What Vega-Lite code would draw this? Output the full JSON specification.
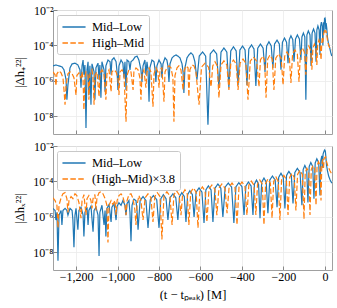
{
"$schema": "https://vega.github.io/schema/vega-lite/v6.json",
"padding": {"left": 13, "top": 3, "right": 1, "bottom": 0},
"config": {
  "font": "Liberation Serif",
  "view": {"stroke": "#a0a0a0", "strokeWidth": 1},
  "axis": {"domain": false, "grid": true, "gridColor": "#ebebeb", "gridWidth": 0.8, "tickColor": "#888", "tickSize": -4, "labelFont": "Liberation Serif", "labelFontSize": 12, "labelColor": "#000", "titleFont": "Liberation Serif", "titleFontSize": 12.5, "titleFontWeight": "normal", "titleColor": "#000"},
  "legend": {"fillColor": "white", "strokeColor": "#c8c8c8", "cornerRadius": 2, "padding": 4, "labelFontSize": 12.5, "labelFont": "Liberation Serif", "labelColor": "#000", "symbolType": "M-1.65,0H1.65", "symbolSize": 196, "symbolOffset": 5, "symbolStrokeWidth": 1.3, "rowPadding": 1, "labelOffset": 10, "labelLimit": 200}
},
"datasets": {
"pML": [{"t":-1311,"v":7e-6},{"t":-1297,"v":7.9e-6},{"t":-1282,"v":7e-6},{"t":-1268,"v":6.2e-6},{"t":-1258,"v":4.2e-6},{"t":-1248,"v":1.15e-6},{"t":-1244,"v":8.5e-8},{"t":-1239,"v":5.9e-7},{"t":-1229,"v":5.4e-6},{"t":-1219,"v":9.1e-6},{"t":-1205,"v":1e-5},{"t":-1191,"v":7.9e-6},{"t":-1181,"v":4.2e-6},{"t":-1176,"v":4.1e-7},{"t":-1171,"v":7e-6},{"t":-1166,"v":1.5e-5},{"t":-1162,"v":2.2e-6},{"t":-1157,"v":7.9e-6},{"t":-1152,"v":2.2e-9},{"t":-1147,"v":4.2e-6},{"t":-1142,"v":1.2e-5},{"t":-1138,"v":1.6e-7},{"t":-1133,"v":7e-6},{"t":-1128,"v":4.5e-8},{"t":-1123,"v":9.1e-6},{"t":-1113,"v":3.2e-6},{"t":-1109,"v":8.5e-8},{"t":-1104,"v":5.4e-6},{"t":-1094,"v":1e-5},{"t":-1089,"v":1.15e-6},{"t":-1085,"v":7.9e-6},{"t":-1080,"v":1.1e-7},{"t":-1075,"v":1.2e-5},{"t":-1065,"v":4.2e-6},{"t":-1060,"v":2.4e-7},{"t":-1056,"v":7e-6},{"t":-1046,"v":1.5e-5},{"t":-1036,"v":1.2e-5},{"t":-1031,"v":2.2e-6},{"t":-1027,"v":1.5e-5},{"t":-1017,"v":2e-5},{"t":-1007,"v":1.2e-5},{"t":-1002,"v":3.2e-6},{"t":-998,"v":3.1e-7},{"t":-993,"v":7e-6},{"t":-983,"v":1.5e-5},{"t":-974,"v":1e-5},{"t":-969,"v":1.5e-6},{"t":-964,"v":1.2e-5},{"t":-959,"v":3.1e-7},{"t":-954,"v":1.5e-5},{"t":-945,"v":1.2e-5},{"t":-940,"v":4.2e-6},{"t":-935,"v":1.2e-5},{"t":-925,"v":1.5e-5},{"t":-916,"v":2.2e-5},{"t":-906,"v":2.5e-5},{"t":-897,"v":1.5e-5},{"t":-887,"v":4.2e-6},{"t":-882,"v":8.8e-7},{"t":-877,"v":7e-6},{"t":-868,"v":1.5e-5},{"t":-863,"v":2.2e-6},{"t":-858,"v":1.2e-5},{"t":-853,"v":4.2e-6},{"t":-848,"v":6.6e-8},{"t":-844,"v":5.4e-6},{"t":-834,"v":1.5e-5},{"t":-824,"v":1.2e-5},{"t":-819,"v":4.2e-6},{"t":-815,"v":8.8e-7},{"t":-810,"v":7e-6},{"t":-800,"v":1.5e-5},{"t":-790,"v":9.1e-6},{"t":-786,"v":1.5e-6},{"t":-781,"v":9.1e-6},{"t":-771,"v":2e-5},{"t":-762,"v":1.5e-5},{"t":-757,"v":7e-6},{"t":-752,"v":8.8e-7},{"t":-747,"v":9.1e-6},{"t":-737,"v":2e-5},{"t":-728,"v":2.5e-5},{"t":-718,"v":2.9e-5},{"t":-709,"v":2.5e-5},{"t":-699,"v":2e-5},{"t":-689,"v":9.1e-6},{"t":-684,"v":3.2e-6},{"t":-680,"v":2.1e-7},{"t":-675,"v":5.4e-6},{"t":-665,"v":2e-5},{"t":-656,"v":2.9e-5},{"t":-646,"v":3.8e-5},{"t":-636,"v":2.9e-5},{"t":-627,"v":1.2e-5},{"t":-617,"v":1.15e-6},{"t":-606,"v":2.5e-5},{"t":-590,"v":4.3e-5},{"t":-575,"v":2.5e-5},{"t":-564,"v":3.3e-9},{"t":-553,"v":3.3e-5},{"t":-537,"v":5.6e-5},{"t":-522,"v":3.3e-5},{"t":-511,"v":4.1e-7},{"t":-501,"v":4.2e-5},{"t":-487,"v":7.2e-5},{"t":-473,"v":4.2e-5},{"t":-463,"v":4.1e-7},{"t":-454,"v":4.9e-5},{"t":-441,"v":8.3e-5},{"t":-428,"v":4.9e-5},{"t":-419,"v":5.9e-7},{"t":-410,"v":5.5e-5},{"t":-397,"v":9.3e-5},{"t":-385,"v":5.5e-5},{"t":-376,"v":5.9e-7},{"t":-367,"v":6.3e-5},{"t":-354,"v":1.07e-4},{"t":-342,"v":6.3e-5},{"t":-333,"v":5.2e-7},{"t":-324,"v":7e-5},{"t":-311,"v":1.2e-4},{"t":-298,"v":7e-5},{"t":-289,"v":3.2e-6},{"t":-281,"v":9.4e-5},{"t":-270,"v":1.6e-4},{"t":-259,"v":9.4e-5},{"t":-251,"v":5.4e-6},{"t":-243,"v":1.2e-4},{"t":-231,"v":2e-4},{"t":-220,"v":1.2e-4},{"t":-212,"v":4.2e-6},{"t":-205,"v":1.5e-4},{"t":-195,"v":2.6e-4},{"t":-185,"v":1.5e-4},{"t":-178,"v":1e-5},{"t":-172,"v":2.1e-4},{"t":-164,"v":3.5e-4},{"t":-155,"v":2.1e-4},{"t":-149,"v":1.2e-5},{"t":-142,"v":2.3e-4},{"t":-133,"v":3.9e-4},{"t":-123,"v":2.3e-4},{"t":-116,"v":1.5e-5},{"t":-111,"v":3e-4},{"t":-104,"v":5e-4},{"t":-97,"v":3e-4},{"t":-92,"v":8.5e-8},{"t":-87,"v":3.9e-4},{"t":-80,"v":6.6e-4},{"t":-72,"v":3.9e-4},{"t":-67,"v":7e-6},{"t":-62,"v":5e-4},{"t":-55,"v":8.5e-4},{"t":-48,"v":5e-4},{"t":-43,"v":1.2e-5},{"t":-39,"v":7.4e-4},{"t":-34,"v":1.26e-3},{"t":-28,"v":7.4e-4},{"t":-24,"v":2.9e-5},{"t":-21,"v":1.2e-3},{"t":-17,"v":2.1e-3},{"t":-13,"v":1.2e-3},{"t":-10,"v":1e-4},{"t":-7,"v":2e-3},{"t":-5,"v":5e-4},{"t":-2,"v":3.3e-3},{"t":0,"v":3.5e-3},{"t":2,"v":2.8e-3},{"t":4,"v":8e-4},{"t":6,"v":1.8e-3},{"t":9,"v":9e-4},{"t":12,"v":3e-4},{"t":16,"v":1.5e-4},{"t":22,"v":8e-5},{"t":28,"v":4e-5},{"t":33,"v":2.5e-5}],
"pHM": [{"t":-1311,"v":3.2e-6},{"t":-1301,"v":2.2e-6},{"t":-1297,"v":5.2e-7},{"t":-1292,"v":2.5e-6},{"t":-1282,"v":3.7e-6},{"t":-1272,"v":2.8e-6},{"t":-1263,"v":1.5e-6},{"t":-1258,"v":3.1e-7},{"t":-1253,"v":4.5e-8},{"t":-1248,"v":5.9e-7},{"t":-1239,"v":2.5e-6},{"t":-1229,"v":3.2e-6},{"t":-1219,"v":2.5e-6},{"t":-1210,"v":1.5e-6},{"t":-1200,"v":1.6e-7},{"t":-1196,"v":2e-6},{"t":-1186,"v":2.8e-6},{"t":-1176,"v":1.5e-6},{"t":-1171,"v":3.2e-6},{"t":-1166,"v":1.15e-6},{"t":-1162,"v":2.3e-8},{"t":-1157,"v":1.5e-6},{"t":-1152,"v":3.2e-6},{"t":-1142,"v":2e-6},{"t":-1138,"v":8.5e-8},{"t":-1133,"v":2.5e-6},{"t":-1123,"v":4.2e-6},{"t":-1118,"v":1.5e-6},{"t":-1113,"v":4.5e-8},{"t":-1109,"v":2e-6},{"t":-1099,"v":3.2e-6},{"t":-1089,"v":1.26e-7},{"t":-1085,"v":2.5e-6},{"t":-1075,"v":4.2e-6},{"t":-1065,"v":2.5e-6},{"t":-1056,"v":8.5e-8},{"t":-1051,"v":2.5e-6},{"t":-1041,"v":4.2e-6},{"t":-1031,"v":2.4e-7},{"t":-1027,"v":3.2e-6},{"t":-1017,"v":4.2e-6},{"t":-1007,"v":3.2e-6},{"t":-998,"v":1.5e-6},{"t":-993,"v":1.6e-7},{"t":-988,"v":3.2e-6},{"t":-978,"v":4.2e-6},{"t":-969,"v":2.5e-6},{"t":-959,"v":4.9e-9},{"t":-954,"v":2e-6},{"t":-945,"v":4.2e-6},{"t":-935,"v":3.2e-6},{"t":-925,"v":3.1e-7},{"t":-921,"v":3.2e-6},{"t":-911,"v":5.4e-6},{"t":-901,"v":4.2e-6},{"t":-892,"v":1.5e-6},{"t":-887,"v":8.5e-8},{"t":-882,"v":2.5e-6},{"t":-873,"v":4.2e-6},{"t":-863,"v":4.1e-7},{"t":-858,"v":3.2e-6},{"t":-848,"v":5.4e-6},{"t":-839,"v":3.2e-6},{"t":-829,"v":3.5e-8},{"t":-824,"v":2.5e-6},{"t":-815,"v":5.4e-6},{"t":-805,"v":3.2e-6},{"t":-800,"v":4.1e-7},{"t":-795,"v":4.2e-6},{"t":-786,"v":5.4e-6},{"t":-776,"v":6.6e-8},{"t":-771,"v":3.2e-6},{"t":-762,"v":5.4e-6},{"t":-752,"v":7e-6},{"t":-742,"v":5.4e-6},{"t":-733,"v":1.5e-6},{"t":-728,"v":4.9e-9},{"t":-723,"v":2e-6},{"t":-713,"v":5.4e-6},{"t":-704,"v":7e-6},{"t":-694,"v":4.2e-6},{"t":-684,"v":3.1e-7},{"t":-680,"v":3.2e-6},{"t":-670,"v":7e-6},{"t":-660,"v":5.4e-6},{"t":-656,"v":1.26e-7},{"t":-651,"v":4.2e-6},{"t":-641,"v":7.9e-6},{"t":-631,"v":7e-6},{"t":-622,"v":3.2e-6},{"t":-607,"v":4.5e-8},{"t":-595,"v":5.9e-6},{"t":-578,"v":1e-5},{"t":-561,"v":5.9e-6},{"t":-549,"v":4.6e-7},{"t":-541,"v":7e-6},{"t":-530,"v":1.2e-5},{"t":-519,"v":7e-6},{"t":-511,"v":1.1e-7},{"t":-501,"v":8e-6},{"t":-487,"v":1.35e-5},{"t":-473,"v":8e-6},{"t":-463,"v":3.1e-7},{"t":-454,"v":8.9e-6},{"t":-441,"v":1.5e-5},{"t":-428,"v":8.9e-6},{"t":-419,"v":3.1e-7},{"t":-409,"v":1e-5},{"t":-395,"v":1.7e-5},{"t":-381,"v":1e-5},{"t":-371,"v":8.5e-8},{"t":-360,"v":1.3e-5},{"t":-345,"v":2.2e-5},{"t":-329,"v":1.3e-5},{"t":-318,"v":4.6e-7},{"t":-311,"v":1.5e-5},{"t":-301,"v":2.5e-5},{"t":-291,"v":1.5e-5},{"t":-284,"v":1.1e-7},{"t":-276,"v":1.7e-5},{"t":-265,"v":2.9e-5},{"t":-254,"v":1.7e-5},{"t":-246,"v":3.1e-7},{"t":-237,"v":1.9e-5},{"t":-224,"v":3.3e-5},{"t":-211,"v":1.9e-5},{"t":-202,"v":5.9e-7},{"t":-194,"v":2.5e-5},{"t":-183,"v":4.3e-5},{"t":-172,"v":2.5e-5},{"t":-164,"v":7.7e-7},{"t":-156,"v":3.3e-5},{"t":-145,"v":5.6e-5},{"t":-133,"v":3.3e-5},{"t":-125,"v":8.8e-7},{"t":-118,"v":4.2e-5},{"t":-109,"v":7.2e-5},{"t":-99,"v":4.2e-5},{"t":-92,"v":2.2e-6},{"t":-86,"v":5.5e-5},{"t":-78,"v":9.3e-5},{"t":-69,"v":5.5e-5},{"t":-63,"v":4.2e-6},{"t":-58,"v":7e-5},{"t":-51,"v":1.2e-4},{"t":-44,"v":7e-5},{"t":-39,"v":7.9e-6},{"t":-35,"v":1.2e-4},{"t":-29,"v":2e-4},{"t":-23,"v":1.2e-4},{"t":-19,"v":1.5e-5},{"t":-14,"v":2.5e-4},{"t":-10,"v":1.5e-4},{"t":-7,"v":4e-4},{"t":-4,"v":6e-4},{"t":0,"v":7e-4},{"t":3,"v":8.5e-4},{"t":5,"v":5e-4},{"t":7,"v":6e-4},{"t":10,"v":3e-4},{"t":14,"v":1.5e-4},{"t":18,"v":1e-4},{"t":24,"v":7e-5},{"t":30,"v":6e-5},{"t":33,"v":5.5e-5}],
"cML": [{"t":-1311,"v":3e-6},{"t":-1301,"v":2.3e-6},{"t":-1297,"v":6.6e-7},{"t":-1292,"v":1.8e-6},{"t":-1287,"v":3.3e-9},{"t":-1282,"v":1.26e-6},{"t":-1272,"v":2.3e-6},{"t":-1268,"v":3.5e-7},{"t":-1263,"v":2.3e-6},{"t":-1253,"v":3e-6},{"t":-1244,"v":2.3e-6},{"t":-1239,"v":1.26e-6},{"t":-1229,"v":3e-6},{"t":-1219,"v":2.3e-6},{"t":-1215,"v":6.6e-7},{"t":-1210,"v":1.9e-8},{"t":-1205,"v":1.26e-6},{"t":-1200,"v":3e-6},{"t":-1191,"v":1.9e-7},{"t":-1186,"v":2.3e-6},{"t":-1176,"v":3.5e-6},{"t":-1166,"v":1.26e-6},{"t":-1162,"v":7.7e-8},{"t":-1157,"v":1.8e-6},{"t":-1147,"v":3.5e-6},{"t":-1142,"v":3.5e-7},{"t":-1138,"v":2.3e-6},{"t":-1128,"v":4e-6},{"t":-1118,"v":1.45e-7},{"t":-1113,"v":2.3e-6},{"t":-1104,"v":3.5e-6},{"t":-1094,"v":1.26e-6},{"t":-1089,"v":6.2e-9},{"t":-1085,"v":1.8e-6},{"t":-1075,"v":4.5e-6},{"t":-1065,"v":3.5e-7},{"t":-1060,"v":2.3e-6},{"t":-1056,"v":7.7e-8},{"t":-1051,"v":3e-6},{"t":-1041,"v":5e-6},{"t":-1031,"v":5.2e-7},{"t":-1027,"v":3.5e-6},{"t":-1017,"v":5.7e-6},{"t":-1007,"v":6.6e-7},{"t":-1002,"v":4e-6},{"t":-993,"v":6.3e-6},{"t":-983,"v":4.5e-6},{"t":-974,"v":8.3e-6},{"t":-964,"v":4.5e-6},{"t":-959,"v":1.26e-6},{"t":-954,"v":5.7e-6},{"t":-945,"v":8.3e-6},{"t":-940,"v":1.8e-6},{"t":-935,"v":4.2e-8},{"t":-930,"v":4.5e-6},{"t":-921,"v":1e-5},{"t":-911,"v":8.3e-6},{"t":-906,"v":2.3e-6},{"t":-901,"v":1.9e-7},{"t":-891,"v":8.3e-6},{"t":-877,"v":1.4e-5},{"t":-863,"v":8.3e-6},{"t":-853,"v":2.4e-7},{"t":-842,"v":9.4e-6},{"t":-827,"v":1.6e-5},{"t":-811,"v":9.4e-6},{"t":-800,"v":2.4e-7},{"t":-791,"v":1.06e-5},{"t":-779,"v":1.8e-5},{"t":-766,"v":1.06e-5},{"t":-757,"v":6.6e-7},{"t":-747,"v":1.2e-5},{"t":-733,"v":2e-5},{"t":-719,"v":1.2e-5},{"t":-709,"v":6.6e-7},{"t":-701,"v":1.4e-5},{"t":-690,"v":2.3e-5},{"t":-678,"v":1.4e-5},{"t":-670,"v":5.2e-7},{"t":-662,"v":1.8e-5},{"t":-651,"v":3e-5},{"t":-639,"v":1.8e-5},{"t":-631,"v":9.8e-7},{"t":-621,"v":2.5e-5},{"t":-607,"v":4.3e-5},{"t":-593,"v":2.5e-5},{"t":-583,"v":4.5e-7},{"t":-574,"v":3.3e-5},{"t":-562,"v":5.6e-5},{"t":-549,"v":3.3e-5},{"t":-540,"v":5.2e-7},{"t":-530,"v":4.2e-5},{"t":-516,"v":7.2e-5},{"t":-502,"v":4.2e-5},{"t":-492,"v":9.8e-7},{"t":-481,"v":4.8e-5},{"t":-466,"v":8.1e-5},{"t":-450,"v":4.8e-5},{"t":-439,"v":4.5e-7},{"t":-429,"v":5e-5},{"t":-415,"v":8.5e-5},{"t":-400,"v":5e-5},{"t":-390,"v":1.26e-6},{"t":-381,"v":5.5e-5},{"t":-369,"v":9.3e-5},{"t":-356,"v":5.5e-5},{"t":-347,"v":1.26e-6},{"t":-340,"v":7e-5},{"t":-330,"v":1.2e-4},{"t":-320,"v":7e-5},{"t":-313,"v":8.5e-7},{"t":-305,"v":9.1e-5},{"t":-294,"v":1.55e-4},{"t":-283,"v":9.1e-5},{"t":-275,"v":1.6e-6},{"t":-266,"v":1.2e-4},{"t":-253,"v":2e-4},{"t":-240,"v":1.2e-4},{"t":-231,"v":3.5e-6},{"t":-223,"v":1.7e-4},{"t":-212,"v":2.9e-4},{"t":-201,"v":1.7e-4},{"t":-193,"v":3e-6},{"t":-185,"v":2.2e-4},{"t":-174,"v":3.7e-4},{"t":-162,"v":2.2e-4},{"t":-154,"v":5.7e-6},{"t":-145,"v":3.2e-4},{"t":-133,"v":5.5e-4},{"t":-120,"v":3.2e-4},{"t":-111,"v":4.5e-6},{"t":-105,"v":4.7e-4},{"t":-97,"v":8e-4},{"t":-88,"v":4.7e-4},{"t":-82,"v":6.5e-6},{"t":-76,"v":6.9e-4},{"t":-68,"v":1.17e-3},{"t":-59,"v":6.9e-4},{"t":-53,"v":1.07e-5},{"t":-47,"v":1.1e-3},{"t":-39,"v":1.9e-3},{"t":-30,"v":1.1e-3},{"t":-24,"v":1.6e-5},{"t":-20,"v":1.5e-3},{"t":-15,"v":2.8e-3},{"t":-12,"v":6e-4},{"t":-9,"v":3.5e-3},{"t":-6,"v":4.5e-3},{"t":-3,"v":5.5e-3},{"t":-1,"v":6e-3},{"t":2,"v":5e-3},{"t":5,"v":2e-3},{"t":8,"v":8e-4},{"t":12,"v":4e-4},{"t":18,"v":2e-4},{"t":25,"v":1.2e-4},{"t":33,"v":8e-5}],
"cHM": [{"t":-1311,"v":1.2e-5},{"t":-1301,"v":8.3e-6},{"t":-1292,"v":4.5e-6},{"t":-1287,"v":2.4e-7},{"t":-1282,"v":4.5e-6},{"t":-1272,"v":1.2e-5},{"t":-1263,"v":2e-5},{"t":-1253,"v":2.3e-5},{"t":-1244,"v":1.07e-5},{"t":-1239,"v":1.8e-6},{"t":-1234,"v":8.3e-6},{"t":-1224,"v":1.4e-5},{"t":-1215,"v":1.07e-5},{"t":-1205,"v":2e-5},{"t":-1196,"v":1.6e-5},{"t":-1186,"v":6.5e-6},{"t":-1176,"v":8.5e-7},{"t":-1171,"v":8.3e-6},{"t":-1162,"v":1.8e-5},{"t":-1152,"v":1.26e-6},{"t":-1147,"v":1.07e-5},{"t":-1138,"v":1.6e-5},{"t":-1128,"v":8.3e-6},{"t":-1123,"v":3e-6},{"t":-1118,"v":1.07e-5},{"t":-1109,"v":1.8e-5},{"t":-1104,"v":2.3e-6},{"t":-1099,"v":1.2e-5},{"t":-1089,"v":2.3e-5},{"t":-1080,"v":2.6e-5},{"t":-1070,"v":2e-5},{"t":-1060,"v":1.07e-5},{"t":-1051,"v":4.5e-6},{"t":-1046,"v":3.6e-8},{"t":-1041,"v":4.5e-6},{"t":-1031,"v":8.3e-6},{"t":-1022,"v":5e-6},{"t":-1012,"v":8.3e-6},{"t":-1007,"v":1.26e-6},{"t":-1002,"v":8.3e-6},{"t":-993,"v":1.6e-5},{"t":-983,"v":2e-5},{"t":-974,"v":1.4e-5},{"t":-964,"v":4.5e-6},{"t":-959,"v":1.26e-6},{"t":-954,"v":8.3e-6},{"t":-945,"v":1.8e-5},{"t":-935,"v":2e-5},{"t":-925,"v":1.07e-5},{"t":-916,"v":2.3e-6},{"t":-911,"v":3.5e-7},{"t":-906,"v":4.5e-6},{"t":-897,"v":1.6e-5},{"t":-887,"v":8.3e-6},{"t":-877,"v":6.6e-7},{"t":-867,"v":1.2e-5},{"t":-853,"v":2e-5},{"t":-839,"v":1.2e-5},{"t":-829,"v":5.2e-7},{"t":-820,"v":1.4e-5},{"t":-808,"v":2.3e-5},{"t":-795,"v":1.4e-5},{"t":-786,"v":5.3e-8},{"t":-776,"v":1.5e-5},{"t":-762,"v":2.6e-5},{"t":-747,"v":1.5e-5},{"t":-737,"v":3.5e-7},{"t":-728,"v":1.8e-5},{"t":-716,"v":3e-5},{"t":-703,"v":1.8e-5},{"t":-694,"v":1.26e-6},{"t":-686,"v":2e-5},{"t":-675,"v":3.4e-5},{"t":-664,"v":2e-5},{"t":-656,"v":3.5e-7},{"t":-647,"v":2.5e-5},{"t":-634,"v":4.3e-5},{"t":-621,"v":2.5e-5},{"t":-612,"v":2.4e-7},{"t":-603,"v":2.9e-5},{"t":-591,"v":4.9e-5},{"t":-578,"v":2.9e-5},{"t":-569,"v":5.2e-7},{"t":-559,"v":3.7e-5},{"t":-545,"v":6.3e-5},{"t":-531,"v":3.7e-5},{"t":-521,"v":1.26e-6},{"t":-511,"v":4.2e-5},{"t":-497,"v":7.2e-5},{"t":-482,"v":4.2e-5},{"t":-472,"v":1.6e-6},{"t":-462,"v":4.8e-5},{"t":-448,"v":8.1e-5},{"t":-434,"v":4.8e-5},{"t":-424,"v":3.5e-7},{"t":-414,"v":5.5e-5},{"t":-400,"v":9.3e-5},{"t":-386,"v":5.5e-5},{"t":-376,"v":1.26e-6},{"t":-367,"v":6.2e-5},{"t":-355,"v":1.05e-4},{"t":-342,"v":6.2e-5},{"t":-333,"v":1.26e-6},{"t":-325,"v":7.1e-5},{"t":-314,"v":1.2e-4},{"t":-302,"v":7.1e-5},{"t":-294,"v":3.5e-7},{"t":-286,"v":8e-5},{"t":-275,"v":1.35e-4},{"t":-263,"v":8e-5},{"t":-255,"v":8.5e-7},{"t":-247,"v":1e-4},{"t":-236,"v":1.75e-4},{"t":-225,"v":1e-4},{"t":-217,"v":6.6e-7},{"t":-209,"v":1.3e-4},{"t":-198,"v":2.2e-4},{"t":-186,"v":1.3e-4},{"t":-178,"v":1.26e-6},{"t":-170,"v":1.7e-4},{"t":-159,"v":2.9e-4},{"t":-148,"v":1.7e-4},{"t":-140,"v":2.3e-6},{"t":-132,"v":2.5e-4},{"t":-121,"v":4.2e-4},{"t":-109,"v":2.5e-4},{"t":-101,"v":7.5e-7},{"t":-95,"v":3.2e-4},{"t":-87,"v":5.5e-4},{"t":-78,"v":3.2e-4},{"t":-72,"v":1.26e-6},{"t":-66,"v":4.7e-4},{"t":-58,"v":8e-4},{"t":-49,"v":4.7e-4},{"t":-43,"v":4.5e-6},{"t":-38,"v":7.7e-4},{"t":-31,"v":1.3e-3},{"t":-24,"v":7.7e-4},{"t":-19,"v":8.3e-6},{"t":-15,"v":1e-3},{"t":-10,"v":1.8e-3},{"t":-7,"v":5e-4},{"t":-4,"v":2e-3},{"t":0,"v":2.3e-3},{"t":3,"v":2.5e-3},{"t":6,"v":1.5e-3},{"t":9,"v":1.2e-3},{"t":13,"v":8e-4},{"t":18,"v":6e-4},{"t":24,"v":4e-4},{"t":30,"v":3e-4},{"t":33,"v":2.8e-4}]
},
"spacing": 4,
"resolve": {"scale": {"color": "independent", "strokeDash": "independent"}, "legend": {"color": "independent", "strokeDash": "independent"}},
"vconcat": [
  {
    "width": 279, "height": 124,
    "layer": [
      {"data": {"name": "pML"}, "mark": {"type": "line", "strokeWidth": 1.2, "clip": true},
       "encoding": {
         "x": {"field": "t", "type": "quantitative", "scale": {"domain": [-1311, 34], "nice": false, "zero": false}, "axis": {"values": [-1200, -1000, -800, -600, -400, -200, 0], "labels": false, "title": null}},
         "y": {"field": "v", "type": "quantitative", "scale": {"type": "log", "domain": [1e-9, 1e-2], "nice": false}, "axis": {"values": [1e-8, 1e-6, 1e-4, 1e-2], "labelExpr": "datum.value > 5e-3 ? '10⁻²' : datum.value > 5e-5 ? '10⁻⁴' : datum.value > 5e-7 ? '10⁻⁶' : '10⁻⁸'", "title": "|Δh₊²²|", "labelPadding": 4, "titlePadding": 6}},
         "color": {"datum": "Mid–Low", "type": "nominal", "scale": {"domain": ["Mid–Low", "High–Mid"], "range": ["#1f77b4", "#ff7f0e"]}, "legend": {"title": null, "orient": "none", "legendX": 4, "legendY": 5}},
         "strokeDash": {"datum": "Mid–Low", "type": "nominal", "scale": {"domain": ["Mid–Low", "High–Mid"], "range": [[1, 0], [5.5, 2.4]]}, "legend": {"title": null, "orient": "none", "legendX": 4, "legendY": 5}}
       }},
      {"data": {"name": "pHM"}, "mark": {"type": "line", "strokeWidth": 1.2, "clip": true},
       "encoding": {
         "x": {"field": "t", "type": "quantitative"},
         "y": {"field": "v", "type": "quantitative"},
         "color": {"datum": "High–Mid", "type": "nominal"},
         "strokeDash": {"datum": "High–Mid", "type": "nominal"}
       }}
    ]
  },
  {
    "width": 279, "height": 124,
    "layer": [
      {"data": {"name": "cML"}, "mark": {"type": "line", "strokeWidth": 1.2, "clip": true},
       "encoding": {
         "x": {"field": "t", "type": "quantitative", "scale": {"domain": [-1311, 34], "nice": false, "zero": false}, "axis": {"values": [-1200, -1000, -800, -600, -400, -200, 0], "format": ",d", "title": "(t − tₚₑₐₖ) [M]", "labelPadding": 5, "titlePadding": 6}},
         "y": {"field": "v", "type": "quantitative", "scale": {"type": "log", "domain": [1e-9, 1e-2], "nice": false}, "axis": {"values": [1e-8, 1e-6, 1e-4, 1e-2], "labelExpr": "datum.value > 5e-3 ? '10⁻²' : datum.value > 5e-5 ? '10⁻⁴' : datum.value > 5e-7 ? '10⁻⁶' : '10⁻⁸'", "title": "|Δhₓ²²|", "labelPadding": 4, "titlePadding": 6}},
         "color": {"datum": "Mid–Low", "type": "nominal", "scale": {"domain": ["Mid–Low", "(High–Mid)×3.8"], "range": ["#1f77b4", "#ff7f0e"]}, "legend": {"title": null, "orient": "none", "legendX": 4, "legendY": 5}},
         "strokeDash": {"datum": "Mid–Low", "type": "nominal", "scale": {"domain": ["Mid–Low", "(High–Mid)×3.8"], "range": [[1, 0], [5.5, 2.4]]}, "legend": {"title": null, "orient": "none", "legendX": 4, "legendY": 5}}
       }},
      {"data": {"name": "cHM"}, "mark": {"type": "line", "strokeWidth": 1.2, "clip": true},
       "encoding": {
         "x": {"field": "t", "type": "quantitative"},
         "y": {"field": "v", "type": "quantitative"},
         "color": {"datum": "(High–Mid)×3.8", "type": "nominal"},
         "strokeDash": {"datum": "(High–Mid)×3.8", "type": "nominal"}
       }}
    ]
  }
]
}
